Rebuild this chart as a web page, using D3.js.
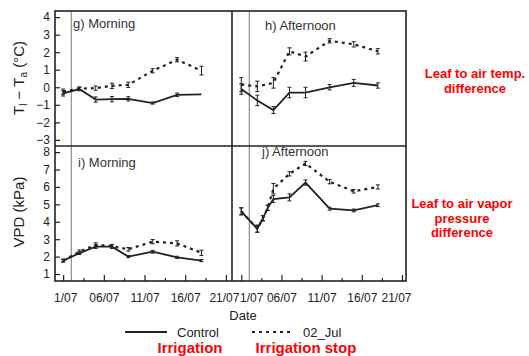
<!DOCTYPE html>
<html>
<head>
<meta charset="utf-8">
<script src="https://cdn.jsdelivr.net/npm/d3@7"></script>
<style>
  body { margin: 0; background: #fff; }
  text { font-family: "Liberation Sans", Arial, sans-serif; }
</style>
</head>
<body>
<div class="chart"></div>
<script>
// ---- data ----
var days = [1, 3, 5, 7, 9, 12, 15, 18];
var jDays = [1, 3, 3.7, 4.3, 5, 7, 9, 12, 15, 18];

// g) Morning, leaf - air temp (°C)
var gControl = [-0.35, -0.1, -0.7, -0.68, -0.66, -0.9, -0.43, -0.4];
var gControlErr = [0.15, 0.1, 0.15, 0.15, 0.12, 0.06, 0.1, 0];
var gStop = [-0.25, -0.08, -0.05, 0.08, 0.14, 0.94, 1.57, 0.95];
var gStopErr = [0.15, 0.1, 0.12, 0.15, 0.15, 0.12, 0.12, 0.25];

// h) Afternoon, leaf - air temp (°C)
var hControl = [-0.1, -0.75, -1.3, -0.3, -0.3, 0.0, 0.25, 0.1];
var hControlErr = [0.3, 0.3, 0.2, 0.3, 0.3, 0.15, 0.2, 0.15];
var hStop = [0.15, 0.05, 0.25, 2.05, 1.75, 2.65, 2.45, 2.05];
var hStopErr = [0.4, 0.3, 0.3, 0.2, 0.25, 0.12, 0.15, 0.15];

// i) Morning, VPD (kPa)
var iControl = [1.77, 2.2, 2.57, 2.57, 2.0, 2.28, 1.96, 1.77];
var iControlErr = [0.08, 0.08, 0.1, 0.1, 0.06, 0.08, 0.06, 0.06];
var iStop = [1.77, 2.28, 2.67, 2.6, 2.42, 2.86, 2.76, 2.22];
var iStopErr = [0.08, 0.1, 0.12, 0.1, 0.1, 0.12, 0.15, 0.15];

// j) Afternoon, VPD (kPa)
var jControl = [4.6, 3.6, 4.2, 4.8, 5.3, 5.4, 6.25, 4.75, 4.65, 4.95];
var jControlErr = [0.2, 0.2, 0.15, 0.15, 0.2, 0.2, 0.15, 0.08, 0.08, 0.08];
var jStop = [4.6, 3.6, 4.2, 4.8, 5.9, 6.75, 7.35, 6.3, 5.75, 6.0];
var jStopErr = [0.2, 0.2, 0.15, 0.15, 0.3, 0.12, 0.12, 0.12, 0.1, 0.12];

var majorTicks = [1, 6, 11, 16, 21];
var minorTicks = [3.5, 8.5, 13.5, 18.5];
var tickLabels = ["1/07", "06/07", "11/07", "16/07", "21/07"];
var tempTicks = [-3, -2, -1, 0, 1, 2, 3, 4];
var vpdTicks = [1, 2, 3, 4, 5, 6, 7, 8];

// ---- layout ----
var svgWidth = 529, svgHeight = 356;
var pLeft = 55, pMid = 232, pRight = 406;
var pTop = 11, pHmid = 146, pBottom = 281;
var irrigationDay = 2; // the thin vertical line (02_Jul)

var svg = d3.select(".chart").append("svg")
  .attr("width", svgWidth)
  .attr("height", svgHeight);

var xLeft = d3.scaleLinear().domain([0, 21.75]).range([pLeft, pMid]);
var xRight = d3.scaleLinear().domain([-0.15, 21.5]).range([pMid, pRight]);
var yTemp = d3.scaleLinear().domain([-3.35, 4.35]).range([pHmid, pTop]);
var yVpd = d3.scaleLinear().domain([0.6, 8.35]).range([pBottom, pHmid]);

var ink = "#222";

function panel(x, y, title, tx, ty, series) {
  // thin line marking irrigation stop
  svg.append("line")
    .attr("x1", x(irrigationDay)).attr("x2", x(irrigationDay))
    .attr("y1", y.range()[1]).attr("y2", y.range()[0])
    .attr("stroke", "#777").attr("stroke-width", 1);

  series.forEach(function(s) {
    var pts = s.days.map(function(d, i) { return {d: d, v: s.vals[i], e: s.err[i]}; });
    var line = d3.line().x(p => x(p.d)).y(p => y(p.v));
    svg.append("path")
      .datum(pts)
      .attr("d", line)
      .attr("fill", "none")
      .attr("stroke", ink)
      .attr("stroke-width", s.dashed ? 2.2 : 1.8)
      .attr("stroke-dasharray", s.dashed ? "3,4" : null);

    var bars = svg.append("g").attr("stroke", ink).attr("stroke-width", 1);
    pts.filter(p => p.e > 0).forEach(function(p) {
      var cx = x(p.d), y1 = y(p.v - p.e), y2 = y(p.v + p.e);
      bars.append("line").attr("x1", cx).attr("x2", cx).attr("y1", y1).attr("y2", y2);
      bars.append("line").attr("x1", cx - 2).attr("x2", cx + 2).attr("y1", y1).attr("y2", y1);
      bars.append("line").attr("x1", cx - 2).attr("x2", cx + 2).attr("y1", y2).attr("y2", y2);
    });
  });

  svg.append("text")
    .attr("x", tx).attr("y", ty)
    .attr("font-size", 13)
    .attr("fill", "#333")
    .text(title);
}

panel(xLeft, yTemp, "g) Morning", 73, 28, [
  {days: days, vals: gControl, err: gControlErr, dashed: false},
  {days: days, vals: gStop, err: gStopErr, dashed: true}
]);
panel(xRight, yTemp, "h) Afternoon", 265, 30, [
  {days: days, vals: hControl, err: hControlErr, dashed: false},
  {days: days, vals: hStop, err: hStopErr, dashed: true}
]);
panel(xLeft, yVpd, "i) Morning", 78, 167, [
  {days: days, vals: iControl, err: iControlErr, dashed: false},
  {days: days, vals: iStop, err: iStopErr, dashed: true}
]);
panel(xRight, yVpd, "j) Afternoon", 262, 156, [
  {days: jDays, vals: jControl, err: jControlErr, dashed: false},
  {days: jDays, vals: jStop, err: jStopErr, dashed: true}
]);

// frames
svg.append("rect")
  .attr("x", pLeft).attr("y", pTop)
  .attr("width", pRight - pLeft).attr("height", pBottom - pTop)
  .attr("fill", "none").attr("stroke", ink).attr("stroke-width", 1.6);
svg.append("line")
  .attr("x1", pMid).attr("x2", pMid).attr("y1", pTop).attr("y2", pBottom)
  .attr("stroke", ink).attr("stroke-width", 1.6);
svg.append("line")
  .attr("x1", pLeft).attr("x2", pRight).attr("y1", pHmid).attr("y2", pHmid)
  .attr("stroke", ink).attr("stroke-width", 1.6);

// y axes (ticks point inward)
function yAxis(scale, values) {
  var g = svg.append("g")
    .attr("transform", `translate(${pLeft},0)`)
    .call(d3.axisLeft(scale).tickValues(values).tickSizeInner(-5).tickSizeOuter(0).tickPadding(5)
      .tickFormat(d => d < 0 ? "\u2212" + Math.abs(d) : d));
  g.select(".domain").remove();
  g.selectAll("line").attr("stroke", ink).attr("stroke-width", 1.2);
  g.selectAll("text").attr("font-size", 12).attr("fill", ink)
    .style("font-family", "'Liberation Sans', Arial, sans-serif");
}
yAxis(yTemp, tempTicks);
yAxis(yVpd, vpdTicks);

// x axes (major + minor inward ticks)
function xAxis(scale, nudges) {
  var g = svg.append("g")
    .attr("transform", `translate(0,${pBottom})`)
    .call(d3.axisBottom(scale).tickValues(majorTicks).tickSizeInner(-6).tickSizeOuter(0).tickPadding(12)
      .tickFormat((d, i) => tickLabels[i]));
  g.select(".domain").remove();
  g.selectAll("line").attr("stroke", ink).attr("stroke-width", 1.2);
  g.selectAll("text").attr("font-size", 12).attr("fill", ink)
    .attr("dx", (d, i) => nudges[i])
    .style("font-family", "'Liberation Sans', Arial, sans-serif");
  var m = svg.append("g")
    .attr("transform", `translate(0,${pBottom})`)
    .call(d3.axisBottom(scale).tickValues(minorTicks).tickSizeInner(-3).tickSizeOuter(0).tickFormat(""));
  m.select(".domain").remove();
  m.selectAll("line").attr("stroke", ink).attr("stroke-width", 1.2);
}
xAxis(xLeft, [2, 0, 0, 0, -2]);
xAxis(xRight, [10, 0, 0, 0, -6]);

// axis titles
svg.append("text")
  .attr("transform", "translate(24,78) rotate(-90)")
  .attr("text-anchor", "middle")
  .attr("font-size", 15).attr("fill", ink)
  .html('T<tspan font-size="10" dy="3">l</tspan><tspan dy="-3"> \u2212 T</tspan><tspan font-size="10" dy="3">a</tspan><tspan dy="-3"> (\u00B0C)</tspan>');

svg.append("text")
  .attr("transform", "translate(24,212) rotate(-90)")
  .attr("text-anchor", "middle")
  .attr("font-size", 15).attr("fill", ink)
  .text("VPD  (kPa)");

svg.append("text")
  .attr("x", 243).attr("y", 320)
  .attr("text-anchor", "middle")
  .attr("font-size", 13).attr("fill", ink)
  .text("Date");

// legend
var legend = svg.append("g");
legend.append("line")
  .attr("x1", 125).attr("x2", 167).attr("y1", 332).attr("y2", 332)
  .attr("stroke", ink).attr("stroke-width", 1.8);
legend.append("text")
  .attr("x", 177).attr("y", 337).attr("font-size", 13).attr("fill", ink)
  .text("Control");
legend.append("line")
  .attr("x1", 252).attr("x2", 290).attr("y1", 332).attr("y2", 332)
  .attr("stroke", ink).attr("stroke-width", 2.2).attr("stroke-dasharray", "3,4");
legend.append("text")
  .attr("x", 303).attr("y", 337).attr("font-size", 13).attr("fill", ink)
  .text("02_Jul");

// red annotations
var red = "#ff0000";
function note(x, y, lines, size) {
  var t = svg.append("text")
    .attr("x", x).attr("y", y)
    .attr("text-anchor", "middle")
    .attr("font-size", size).attr("font-weight", "bold").attr("fill", red);
  lines.forEach(function(l, i) {
    t.append("tspan").attr("x", x).attr("dy", i === 0 ? 0 : size * 1.12).text(l);
  });
}
note(190, 353, ["Irrigation"], 15);
note(306, 353, ["Irrigation stop"], 15);
note(475, 78, ["Leaf to air temp.", "difference"], 13);
note(462, 208, ["Leaf to air vapor", "pressure", "difference"], 13);
</script>
</body>
</html>
